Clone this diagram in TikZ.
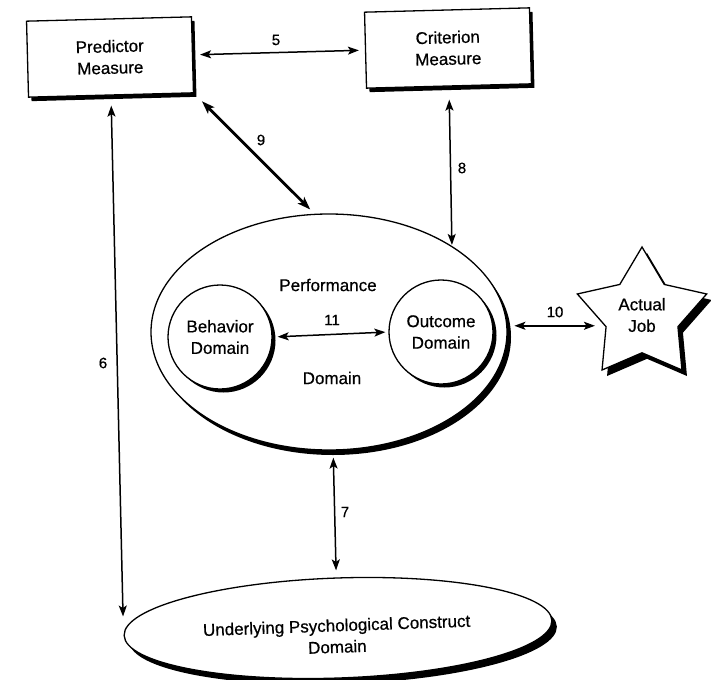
\documentclass[tikz,border=0pt]{standalone}
\usepackage{fontspec}
\setmainfont{Liberation Sans}
\newfontfamily\scanfont{Liberation Sans}[FakeBold=0.6]
\usetikzlibrary{arrows.meta,shapes.geometric,shadows}
\begin{document}
\begin{tikzpicture}[x=1pt,y=-1pt,
  txt/.style={font=\scanfont\fontsize{17}{21.5}\selectfont, align=center},
  num/.style={font=\scanfont\fontsize{15}{17}\selectfont},
  shad/.style={drop shadow={shadow xshift=#1,shadow yshift=-#1,fill=black,opacity=1}},
  mbox/.style={txt, draw=black, line width=1.3pt, fill=white, minimum width=165pt,
    minimum height=76pt, inner sep=0pt, rotate=1.5,
    drop shadow={shadow xshift=3pt,shadow yshift=-4pt,fill=black,opacity=1}},
  circ/.style={txt, circle, draw=black, line width=1.3pt, fill=white, minimum size=104pt,
    inner sep=0pt, shad=3.5pt},
  arr/.style={{Stealth[length=11pt,width=8pt,inset=2.5pt]}-{Stealth[length=11pt,width=8pt,inset=2.5pt]}, line width=1.5pt},
  thickarr/.style={{Stealth[length=13pt,width=9pt,inset=3pt]}-{Stealth[length=13pt,width=9pt,inset=3pt]}, line width=2.8pt},
]
\useasboundingbox[fill=white] (0,0) rectangle (711,679);

% boxes
\node[mbox] (pred) at (110,57) {Predictor\\Measure};
\node[mbox] (crit) at (448,48) {Criterion\\Measure};

% performance domain
\node[ellipse, draw=black, line width=1.3pt, fill=white, minimum width=356pt,
  minimum height=236pt, inner sep=0pt,
  drop shadow={shadow xshift=4pt,shadow yshift=-5pt,fill=black,opacity=1}] (perf) at (329,332) {};
\node[txt] (perft) at (328,285) {Performance};
\node[txt] (perfd) at (332,378) {Domain};
\node[circ] (beh) at (220,337) {Behavior\\Domain};
\node[circ] (out) at (441,332) {Outcome\\Domain};

% actual job
\node[txt, star, star points=5, star point ratio=1.8, minimum size=136pt, inner sep=0pt,
  draw=black, line width=1.3pt, fill=white,
  drop shadow={shadow xshift=5pt,shadow yshift=-6pt,fill=black,opacity=1}] (job) at (642,315) {Actual\\Job};

% construct domain
\node[ellipse, draw=black, line width=1.3pt, fill=white, minimum width=428pt,
  minimum height=100pt, inner sep=0pt, rotate=2,
  drop shadow={shadow xshift=5pt,shadow yshift=-6pt,fill=black,opacity=1}] (psy) at (338,628) {};
\node[txt, rotate=2] (psyt) at (337,636) {Underlying Psychological Construct\\Domain};

% connectors
\draw[arr, shorten <=7pt, shorten >=6pt] (pred.east) -- (crit.west);
\draw[arr, shorten <=10pt, shorten >=19pt] (pred.south) -- (psy.west);
\draw[thickarr, shorten <=11pt, shorten >=6pt] (pred.south east) -- (perf.97);
\draw[arr, shorten <=13pt, shorten >=1pt] (crit.south) -- (perf.35);
\draw[arr, shorten <=7pt, shorten >=7pt] (perf.272) -- (psy.north);
\draw[arr, shorten <=7pt] (perf.2) -- (perf.2 -| job.west);
\draw[arr, shorten <=5pt, shorten >=3pt] (beh.east) -- (out.west);

% connector labels
\node[num] (l5) at (276,40) {5};
\node[num] (l6) at (103,363) {6};
\node[num] (l7) at (345,512) {7};
\node[num] (l8) at (462,168) {8};
\node[num] (l9) at (261,140) {9};
\node[num] (l10) at (555,312) {10};
\node[num] (l11) at (332,320) {11};
\end{tikzpicture}
\end{document}
